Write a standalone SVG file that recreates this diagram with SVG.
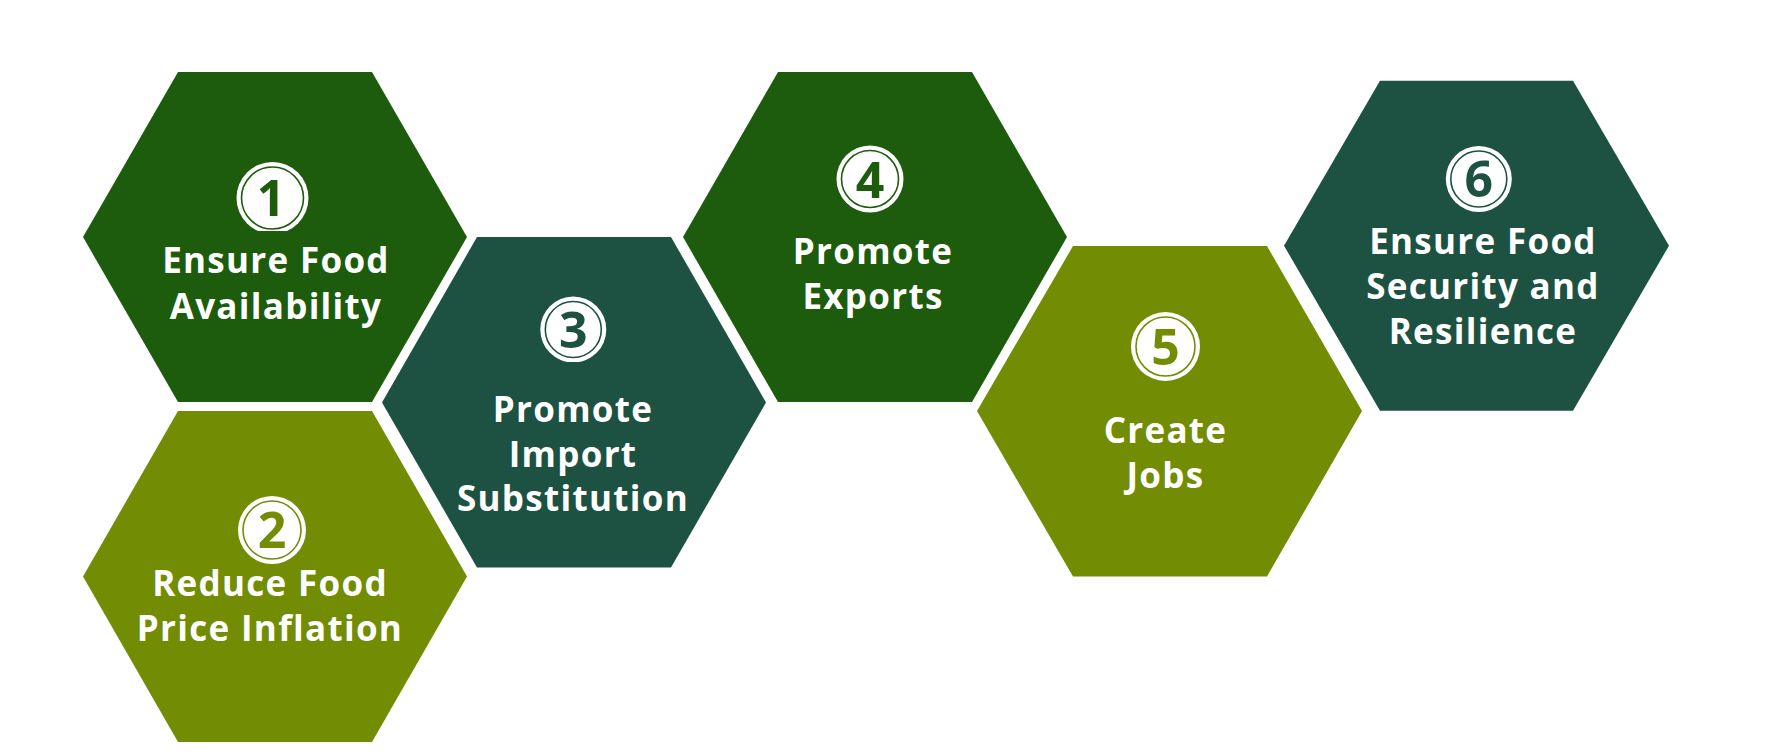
<svg xmlns="http://www.w3.org/2000/svg" width="1782" height="752" viewBox="0 0 1782 752">
<style>
.g{fill:#1D5C0C}.t{fill:#1D5242}.o{fill:#728C04}
.lbl{font-family:"Open Sans","Liberation Sans",sans-serif;font-weight:700;font-size:35px;letter-spacing:1.3px;fill:#FFFFFF;text-anchor:middle}
.disk{fill:#FFFFFF}
.ring{fill:none;stroke-width:1.6}
.num{font-family:"Open Sans","Liberation Sans",sans-serif;font-weight:700;font-size:50px;text-anchor:middle}
</style>
<defs>
<clipPath id="c1"><rect x="200" y="150" width="150" height="81"/></clipPath>
<clipPath id="c3"><rect x="500" y="280" width="150" height="82"/></clipPath>
<clipPath id="c5"><rect x="1090" y="300" width="150" height="83"/></clipPath>
<clipPath id="c6"><rect x="1400" y="130" width="150" height="82"/></clipPath>
</defs>
<rect width="1782" height="752" fill="#FFFFFF"/>
<g id="node1">
<polygon class="g" points="83,237 178,72 372,72 467,237 372,402 178,402"/>
<g clip-path="url(#c1)">
<circle class="disk" cx="272.5" cy="198" r="36"/>
<circle class="ring" stroke="#1D5C0C" cx="272.5" cy="198" r="31"/>
<text class="num" fill="#1D5C0C" x="271" y="216">1</text>
</g>
<text class="lbl" x="276" y="273">Ensure Food</text>
<text class="lbl" x="276" y="319">Availability</text>
</g>
<g id="node2">
<polygon class="o" points="83,576.5 178,411 372,411 467,576.5 372,742 178,742"/>
<circle class="disk" cx="272" cy="530" r="34"/>
<circle class="ring" stroke="#728C04" cx="272" cy="530" r="29"/>
<text class="num" fill="#728C04" x="272" y="548">2</text>
<text class="lbl" x="270" y="596">Reduce Food</text>
<text class="lbl" x="270" y="641">Price Inflation</text>
</g>
<g id="node3">
<polygon class="t" points="382,402.5 477,237 671,237 766,402.5 671,567.5 477,567.5"/>
<g clip-path="url(#c3)">
<circle class="disk" cx="573.3" cy="329.5" r="33"/>
<circle class="ring" stroke="#1D5242" cx="573.3" cy="329.5" r="28"/>
<text class="num" fill="#1D5242" x="573.3" y="347.5">3</text>
</g>
<text class="lbl" x="573" y="422">Promote</text>
<text class="lbl" x="573" y="467">Import</text>
<text class="lbl" x="573" y="511">Substitution</text>
</g>
<g id="node4">
<polygon class="g" points="683,237 778,72 972,72 1067,237 972,402 778,402"/>
<circle class="disk" cx="870" cy="179" r="33.5"/>
<circle class="ring" stroke="#1D5C0C" cx="870" cy="179" r="28.5"/>
<text class="num" fill="#1D5C0C" x="870" y="197.5">4</text>
<text class="lbl" x="873" y="264">Promote</text>
<text class="lbl" x="873" y="309">Exports</text>
</g>
<g id="node5">
<polygon class="o" points="977,411 1073,246 1267,246 1362,411 1267,576.5 1073,576.5"/>
<g clip-path="url(#c5)">
<circle class="disk" cx="1165.5" cy="346.5" r="34.5"/>
<circle class="ring" stroke="#728C04" cx="1165.5" cy="346.5" r="29.5"/>
<text class="num" fill="#728C04" x="1165.5" y="365">5</text>
</g>
<text class="lbl" x="1165.5" y="443">Create</text>
<text class="lbl" x="1165.5" y="488">Jobs</text>
</g>
<g id="node6">
<polygon class="t" points="1284,245.7 1380,80.7 1573,80.7 1669,245.7 1573,410.7 1380,410.7"/>
<g clip-path="url(#c6)">
<circle class="disk" cx="1478.8" cy="179" r="33"/>
<circle class="ring" stroke="#1D5242" cx="1478.8" cy="179" r="28"/>
<text class="num" fill="#1D5242" x="1478.8" y="197">6</text>
</g>
<text class="lbl" x="1483" y="254">Ensure Food</text>
<text class="lbl" x="1483" y="299">Security and</text>
<text class="lbl" x="1483" y="344">Resilience</text>
</g>
<g id="connectors"></g>
</svg>
